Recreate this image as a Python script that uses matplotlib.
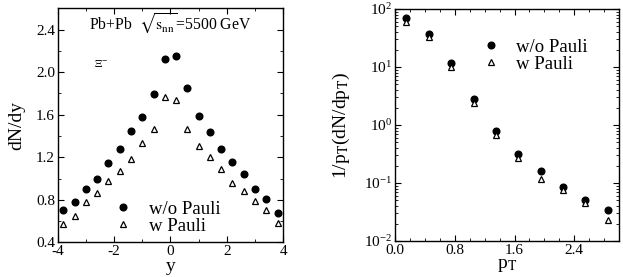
import matplotlib
matplotlib.use("Agg")
import matplotlib.pyplot as plt
from matplotlib.ticker import MultipleLocator, LogLocator, NullFormatter

plt.rcParams['font.family'] = ['Liberation Serif', 'DejaVu Serif']
plt.rcParams['mathtext.fontset'] = 'stix'
plt.rcParams['axes.unicode_minus'] = False

# rapidity distribution
y = [-3.8, -3.4, -3.0, -2.6, -2.2, -1.8, -1.4, -1.0, -0.6, -0.2,
     0.2, 0.6, 1.0, 1.4, 1.8, 2.2, 2.6, 3.0, 3.4, 3.8]
dndy_nopauli = [0.70, 0.78, 0.90, 1.00, 1.15, 1.28, 1.45, 1.58, 1.79, 2.12,
                2.15, 1.85, 1.59, 1.44, 1.28, 1.16, 1.04, 0.90, 0.81, 0.68]
dndy_pauli = [0.57, 0.65, 0.78, 0.86, 0.98, 1.07, 1.18, 1.33, 1.47, 1.77,
              1.74, 1.47, 1.31, 1.20, 1.09, 0.96, 0.88, 0.79, 0.70, 0.58]

# transverse momentum spectrum
pt = [0.15, 0.45, 0.75, 1.05, 1.35, 1.65, 1.95, 2.25, 2.55, 2.85]
spec_nopauli = [70, 36.5, 11.6, 2.8, 0.78, 0.32, 0.16, 0.084, 0.050, 0.034]
spec_pauli = [60, 33, 10.1, 2.4, 0.68, 0.27, 0.116, 0.075, 0.045, 0.023]

fig = plt.figure(figsize=(6.23, 2.77), dpi=100)
ax1 = fig.add_axes([0.0926, 0.125, 0.362, 0.845])
ax2 = fig.add_axes([0.6345, 0.130, 0.359, 0.8375])

fs = 11      # tick labels
lfs = 14     # axis labels
gfs = 13.5   # legend text
ms = 4.8

leg_kw = dict(loc='center left', frameon=False, fontsize=gfs, handlelength=1.0,
              handletextpad=0.85, labelspacing=0.0, borderpad=0,
              borderaxespad=0, numpoints=1)

# left panel
ax1.plot(y, dndy_nopauli, 'o', color='black', ms=ms, label='w/o Pauli')
ax1.plot(y, dndy_pauli, '^', mfc='white', mec='black', mew=0.9, ms=ms, label='w Pauli')
ax1.set_xlim(-4, 4)
ax1.set_ylim(0.4, 2.6)
ax1.xaxis.set_major_locator(MultipleLocator(2))
ax1.xaxis.set_minor_locator(MultipleLocator(1))
ax1.yaxis.set_minor_locator(MultipleLocator(0.2))
ax1.set_yticks([0.4, 0.8, 1.2, 1.6, 2.0, 2.4])
ax1.set_yticklabels(['0.4', '0.8', '1.2', '1.6', '2.0', '2.4'])
ax1.set_xlabel('y', fontsize=lfs, labelpad=0)
ax1.set_ylabel('dN/dy', fontsize=lfs, labelpad=8)
ax1.text(0, 2.45, r'Pb+Pb  $\sqrt{\mathrm{s}_{\mathrm{nn}}}$=5500 GeV',
         ha='center', va='center', fontsize=11.3)
ax1.text(-2.45, 2.08, r'$\Xi^{-}$', ha='center', va='center', fontsize=8)
ax1.legend(bbox_to_anchor=(0.25, 0.106), **leg_kw)

# right panel
ax2.semilogy(pt, spec_nopauli, 'o', color='black', ms=ms, label='w/o Pauli')
ax2.semilogy(pt, spec_pauli, '^', mfc='white', mec='black', mew=0.9, ms=ms, label='w Pauli')
ax2.set_xlim(0, 3.0)
ax2.set_ylim(1e-2, 1e2)
ax2.xaxis.set_minor_locator(MultipleLocator(0.2))
ax2.set_xticks([0.0, 0.8, 1.6, 2.4])
ax2.set_xticklabels(['0.0', '0.8', '1.6', '2.4'])
ax2.yaxis.set_major_locator(LogLocator(base=10, numticks=10))
ax2.yaxis.set_minor_locator(LogLocator(base=10, subs=range(2, 10), numticks=10))
ax2.yaxis.set_minor_formatter(NullFormatter())
ax2.set_xlabel(r'p$_{\rm T}$', fontsize=lfs, labelpad=0)
ax2.set_ylabel(r'1/p$_{\rm T}$(dN/dp$_{\rm T}$)', fontsize=lfs, labelpad=9)
ax2.legend(bbox_to_anchor=(0.386, 0.798), **leg_kw)

for ax in (ax1, ax2):
    ax.tick_params(which='both', direction='in', top=True, right=True,
                   labelsize=fs, pad=2)
    ax.tick_params(which='major', length=4, width=0.8)
    ax.tick_params(which='minor', length=2, width=0.6)
    for s in ax.spines.values():
        s.set_linewidth(1.0)

fig.savefig('out.png', dpi=100)
